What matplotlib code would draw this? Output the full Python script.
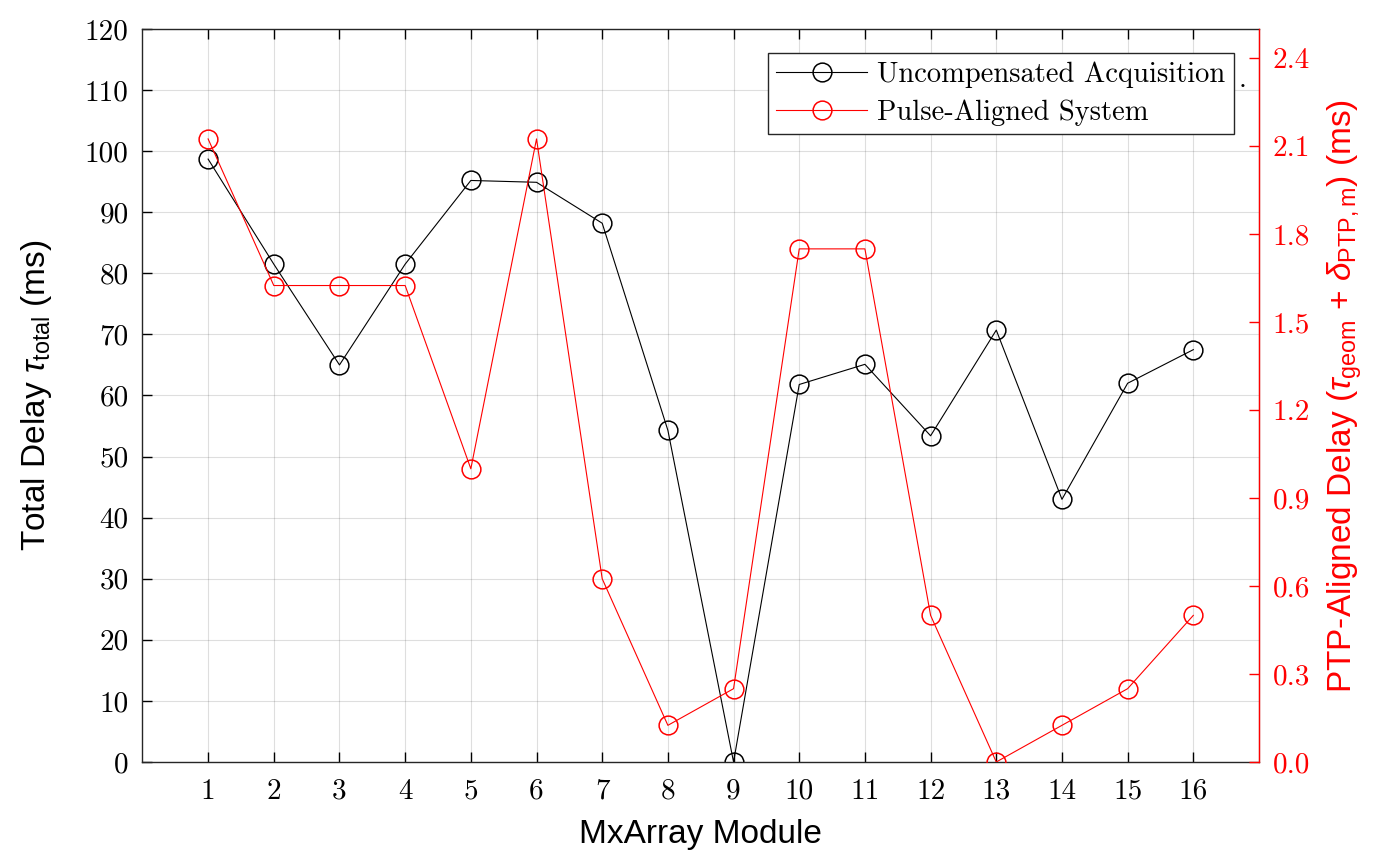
import numpy as np
import matplotlib
matplotlib.use("Agg")
import matplotlib.pyplot as plt
from matplotlib.ticker import FixedLocator, FormatStrFormatter

# data
modules = np.arange(1, 17)
tau_total = [98.7, 81.5, 65.0, 81.5, 95.2, 94.9, 88.2, 54.3,
             0.0, 61.8, 65.1, 53.4, 70.7, 43.0, 62.0, 67.5]
ptp_delay = [2.125, 1.625, 1.625, 1.625, 1.0, 2.125, 0.625, 0.125,
             0.25, 1.75, 1.75, 0.5, 0.0, 0.125, 0.25, 0.5]
left_ticks = np.arange(0, 121, 10)
right_ticks = np.arange(0, 2.41, 0.3)

plt.rcParams['mathtext.fontset'] = 'custom'
plt.rcParams['mathtext.rm'] = 'Liberation Sans'
plt.rcParams['mathtext.it'] = 'Liberation Sans:italic'
plt.rcParams['mathtext.sf'] = 'Liberation Sans'

lab_font = ['Liberation Sans', 'DejaVu Sans']
tick_font = ['cmr10', 'DejaVu Serif']

fig = plt.figure(figsize=(13.91, 8.65), dpi=100)
ax = fig.add_axes([0.1024, 0.1191, 0.8027, 0.8474])
ax2 = ax.twinx()

ax.plot(modules, tau_total, '-o', color='k', lw=0.8, ms=13.5, mfc='none', mew=1.1,
        label='Uncompensated Acquisition')
ax2.plot(modules, ptp_delay, '-o', color='r', lw=0.8, ms=13.5, mfc='none', mew=1.1,
         label='Pulse-Aligned System')

ax.set_xlim(0, 17)
ax.set_ylim(0, 120)
ax2.set_ylim(0, 2.5)
ax.xaxis.set_major_locator(FixedLocator(modules))
ax.yaxis.set_major_locator(FixedLocator(left_ticks))
ax2.yaxis.set_major_locator(FixedLocator(right_ticks))
ax2.yaxis.set_major_formatter(FormatStrFormatter('%.1f'))

ax.grid(True, color='#262626', alpha=0.15, lw=0.8)
ax.set_axisbelow(True)

ax.tick_params(axis='both', direction='in', length=7, width=1, colors='k',
               labelsize=21, top=True, pad=10)
ax.tick_params(axis='x', pad=12)
ax.tick_params(axis='y', right=False)
ax2.tick_params(axis='y', direction='in', length=7, width=1, colors='r',
                labelsize=21, pad=10)
for lab in ax.get_xticklabels() + ax.get_yticklabels() + ax2.get_yticklabels():
    lab.set_family(tick_font)

for s in ['left', 'bottom', 'top']:
    ax.spines[s].set_color('#262626')
    ax.spines[s].set_linewidth(1.0)
ax2.spines['right'].set_color('r')
ax2.spines['right'].set_linewidth(1.0)
ax2.spines['left'].set_visible(False)
ax2.spines['top'].set_visible(False)
ax2.spines['bottom'].set_visible(False)

ax.set_xlabel('MxArray Module', fontsize=24, family=lab_font, labelpad=10)
ax.set_ylabel(r'Total Delay $\tau_{\mathrm{total}}$ (ms)', fontsize=24,
              family=lab_font, labelpad=22)
ax2.set_ylabel(r'PTP-Aligned Delay ($\tau_{\mathrm{geom}}$ + $\delta_{\mathrm{PTP,m}}$) (ms)',
               fontsize=24, family=lab_font, color='r', labelpad=11)

h1, l1 = ax.get_legend_handles_labels()
h2, l2 = ax2.get_legend_handles_labels()
leg = ax2.legend(h1 + h2, l1 + l2, loc='upper right', bbox_to_anchor=(0.9776, 0.9677),
                 fancybox=False, framealpha=1, edgecolor='#262626',
                 prop={'family': tick_font, 'size': 20.5}, handlelength=3.2,
                 borderpad=0.3, labelspacing=0.4, handletextpad=0.35, borderaxespad=0)
leg.get_frame().set_linewidth(1.0)
ax2.text(0.9857, 0.9304, '.', transform=ax2.transAxes, fontsize=20.5,
         family=tick_font, ha='center', va='center')

fig.savefig('out.png', dpi=100)
